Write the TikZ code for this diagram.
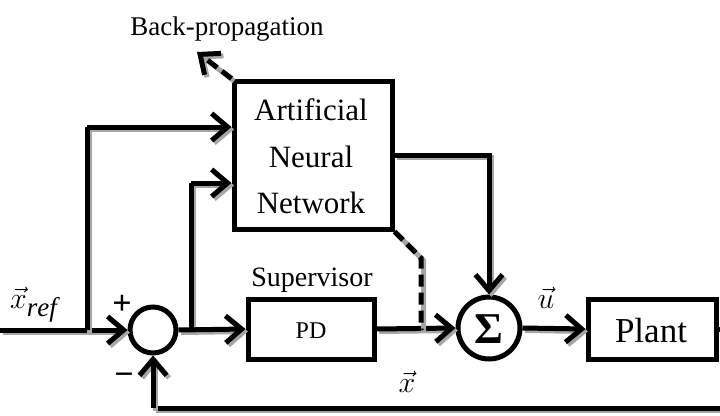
\RequirePackage{fix-cm}
\documentclass[tikz,border=0pt]{standalone}
\usepackage{fontspec}
\setmainfont{Liberation Serif}
\usetikzlibrary{arrows.meta}
\begin{document}
\begin{tikzpicture}[x=1pt,y=-1pt,
  wire/.style={line width=5pt, preaction={draw=black!35, line width=5pt, transform canvas={xshift=2.5pt,yshift=-2.5pt}}},
  arr/.style={-{Straight Barb[length=16pt,width=27pt]}},
  dashwire/.style={dash pattern=on 12pt off 6pt},
  blk/.style={draw, line width=5pt, rectangle, fill=white, inner sep=0pt},
  junc/.style={draw, line width=5pt, circle, fill=white, inner sep=0pt},
  lab/.style={inner sep=0pt},
  big/.style={font=\fontsize{31}{33}\selectfont, anchor=base, inner sep=0pt},
  sig/.style={inner sep=0pt, anchor=base, font=\fontsize{30}{32}\selectfont},
  sign/.style={inner sep=0pt, font=\fontsize{34}{36}\selectfont\bfseries}
]
\useasboundingbox (0,0) rectangle (720,415);

% blocks
\node[junc, minimum size=46pt] (err) at (153,330) {};
\node[blk, minimum width=158pt, minimum height=148pt] (ann) at (313,155) {};
\node[big] at (311,120) {Artificial};
\node[big] at (311,167) {Neural};
\node[big] at (311,213) {Network};
\node[blk, minimum width=126pt, minimum height=60pt] (pd) at (311,329) {};
\node[lab, anchor=base, font=\fontsize{24}{26}\selectfont] at (311,338) {PD};
\node[lab, anchor=base, font=\fontsize{28}{30}\selectfont] (sup) at (312,286) {Supervisor};
\node[junc, minimum size=62pt] (sum) at (489,328) {};
\node[lab, font=\fontsize{44}{46}\selectfont\bfseries] at (489,329) {Σ};
\node[blk, minimum width=128pt, minimum height=60pt] (plant) at (652,329) {};
\node[lab, anchor=base, font=\fontsize{35}{37}\selectfont] at (651,342) {Plant};
\node[lab, anchor=base, font=\fontsize{27}{29}\selectfont] (bp) at (227,35) {Back-propagation};

% helper points
\coordinate (in) at (0,330);
\coordinate (b1) at (87,330);
\coordinate (b1t) at (87,127);
\coordinate (b2) at (191,330);
\coordinate (b2t) at (191,183);
\coordinate (annout) at (489,155);
\coordinate (dk) at (421,258);
\coordinate (dj) at (421,330);
\coordinate (bptip) at (197,52);
\coordinate (fr) at (740,329);
\coordinate (frb) at (740,408);
\coordinate (flb) at (153,408);

% connectors
\draw[wire, arr] (in) -- (err.west);
\draw[wire] (b1) -- (b1t);
\draw[wire, arr] (b1t) -- (b1t -| ann.west);
\draw[wire] (b2) -- (b2t);
\draw[wire, arr] (b2t) -- (b2t -| ann.west);
\draw[wire, arr] (err.east) -- (pd.west);
\draw[wire, arr] (pd.east) -- (sum.west);
\draw[wire, arr] (ann.east |- annout) -- (annout) -- (sum.north);
\draw[wire, dashwire] (ann.south east) -- (dk) -- (dj);
\draw[wire, dashwire, arr] (ann.north west) -- (bptip);
\draw[wire, arr] (sum.east) -- (plant.west);
\draw[wire] (plant.east) -- (fr) -- (frb) -- (flb);
\draw[wire, arr] (flb) -- (err.south);

% signal labels
\node[sign] at (122,305) {+};
\node[sign] at (124,379) {−};
\node[sig, anchor=base west] at (10,308)
  {$\vec{x}_{\hbox{\fontsize{27}{29}\selectfont$\mathit{ref}$}}$};
\node[sig] at (546,308) {$\vec{u}$};
\node[sig] at (407,392) {$\vec{x}$};
\end{tikzpicture}
\end{document}
